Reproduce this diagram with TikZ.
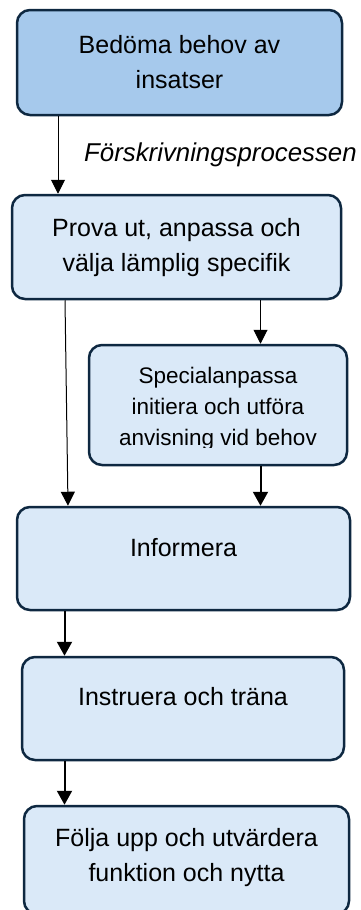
\documentclass[tikz,border=0pt]{standalone}
\usepackage{fontspec}
\setmainfont{Liberation Sans}
\usetikzlibrary{arrows.meta}
\definecolor{bordc}{HTML}{0E2841}
\definecolor{darkfill}{HTML}{A6C9EC}
\definecolor{lightfill}{HTML}{DAE9F8}
\begin{document}
\begin{tikzpicture}[x=1pt,y=-1pt,
  box/.style={draw=bordc,line width=2.5pt,rounded corners=13pt,fill=lightfill,inner sep=0pt},
  txt/.style={align=center,font=\fontsize{25}{35}\selectfont,inner sep=0pt},
  stxt/.style={align=center,font=\fontsize{22.5}{31}\selectfont,inner sep=0pt},
  thinarr/.style={line width=1pt,-{Triangle[width=14pt,length=14pt]}},
  thickarr/.style={line width=2pt,-{Triangle[width=15pt,length=14pt]}}]
\useasboundingbox (0,0) rectangle (361,910);
% boxes
\node[box,fill=darkfill,minimum width=325pt,minimum height=105pt] (b1) at (179.5,62.5) {};
\node[box,minimum width=329pt,minimum height=104pt] (b2) at (176.5,247) {};
\node[box,minimum width=258pt,minimum height=120pt] (b3) at (218,405) {};
\node[box,minimum width=333pt,minimum height=103pt] (b4) at (183.5,558.5) {};
\node[box,minimum width=322pt,minimum height=103pt] (b5) at (183,708.5) {};
\node[box,minimum width=325pt,minimum height=108pt] (b6) at (186.5,860) {};
% texts
\node[txt] (t1) at (179.5,62.5) {Bedöma behov av\\insatser};
\node[txt] (t2) at (176.5,247.5) {Prova ut, anpassa och\\välja lämplig specifik};
\begin{scope}
\clip (89,345) rectangle (347,447.5);
\node[stxt] (t3) at (218,409) {Specialanpassa\\initiera och utföra\\anvisning vid behov};
\end{scope}
\node[txt] (t4) at (183.5,548) {Informera};
\node[txt] (t5) at (183,697) {Instruera och träna};
\node[txt] (t6) at (186.5,857.5) {Följa upp och utvärdera\\funktion och nytta};
\node[txt,font=\fontsize{25.8}{30}\itshape\selectfont,anchor=west] (lab) at (84,155) {Förskrivningsprocessen};
% connector coordinates
\coordinate (c58) at (58,0);
\coordinate (c65) at (65,0);
\coordinate (c68) at (68,0);
\coordinate (c260) at (260.5,0);
\coordinate (c64) at (64.5,0);
\draw[thinarr] (b1.south -| c58) -- (b2.north -| c58);
\draw[thinarr] (b2.south -| c65) -- (b4.north -| c68);
\draw[thinarr] (b2.south -| c260) -- (b3.north -| c260);
\draw[thickarr] (b3.south -| c260) -- (b4.north -| c260);
\draw[thickarr] (b4.south -| c64) -- (b5.north -| c64);
\draw[thickarr] (b5.south -| c64) -- (b6.north -| c64);
\end{tikzpicture}
\end{document}
